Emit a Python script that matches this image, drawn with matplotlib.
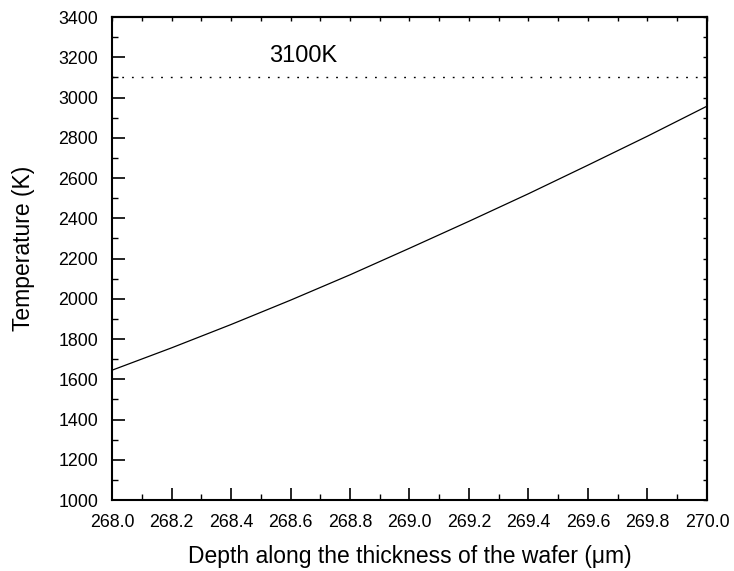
import numpy as np
import matplotlib.pyplot as plt
from matplotlib.ticker import MultipleLocator

plt.rcParams["font.family"] = ["Liberation Sans", "DejaVu Sans"]

# ---------- Data ----------
depth = [268.0, 268.2, 268.4, 268.6, 268.8, 269.0, 269.2, 269.4, 269.6, 269.8, 270.0]   # um
temp  = [1645, 1756, 1872, 1993, 2119, 2251, 2385, 2522, 2664, 2808, 2957]           # K
T_melt = 3100      # K, reference line
melt_label = "3100K"

fig = plt.figure(figsize=(7.34, 5.71), dpi=100)
ax = fig.add_axes([0.1526, 0.1243, 0.8106, 0.8459])

ax.plot(depth, temp, color="black", lw=0.9)
ax.plot([depth[0], depth[-1]], [T_melt, T_melt], color="black", lw=1.0,
        ls=(0, (1.3, 5.7)))
ax.text(268.644, 3206, melt_label, fontsize=17, ha="center", va="center")

ax.set_xlim(268.0, 270.0)
ax.set_ylim(1000, 3400)
ax.xaxis.set_major_locator(MultipleLocator(0.2))
ax.xaxis.set_minor_locator(MultipleLocator(0.1))
ax.yaxis.set_major_locator(MultipleLocator(200))
ax.yaxis.set_minor_locator(MultipleLocator(100))
ax.xaxis.set_major_formatter(plt.FormatStrFormatter("%.1f"))
ax.tick_params(which="major", direction="in", length=9, width=1.2, labelsize=12.8)
ax.tick_params(axis="x", which="major", pad=10)
ax.tick_params(axis="y", which="major", pad=10)
ax.tick_params(which="minor", direction="in", length=4, width=1.0)

# small ticks on top and right, no labels
top = ax.secondary_xaxis("top")
top.xaxis.set_major_locator(MultipleLocator(0.1))
top.tick_params(direction="in", length=3, width=1.0, labeltop=False)
right = ax.secondary_yaxis("right")
right.yaxis.set_major_locator(MultipleLocator(100))
right.tick_params(direction="in", length=3, width=1.0, labelright=False)

for sp in ax.spines.values():
    sp.set_linewidth(1.5)
for sp in list(top.spines.values()) + list(right.spines.values()):
    sp.set_linewidth(1.5)

ax.set_xlabel("Depth along the thickness of the wafer (\u03bcm)", fontsize=16.5)
ax.set_ylabel("Temperature (K)", fontsize=16.5)
ax.xaxis.set_label_coords(0.5, -0.093)
ax.yaxis.set_label_coords(-0.13, 0.52)

fig.savefig("out.png", dpi=100)
